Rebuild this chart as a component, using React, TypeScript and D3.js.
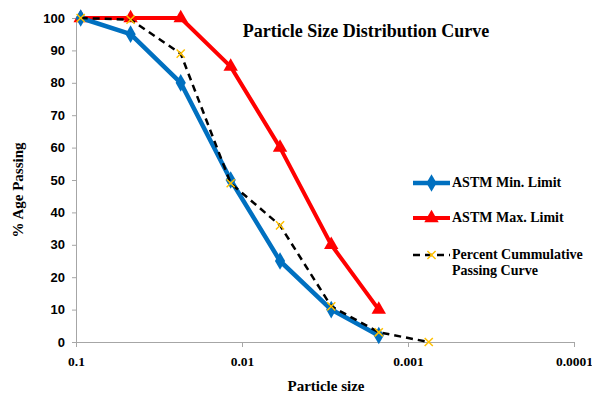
import React, { useRef, useEffect } from "react";
import * as d3 from "d3";

// particle sizes (log scale, reversed)
const sieveSizes = [0.0937, 0.0469, 0.0234, 0.0117, 0.0059, 0.0029, 0.0015];
const minLimit = [100, 95, 80, 50, 25, 10, 2];
const maxLimit = [100, 100, 100, 85, 60, 30, 10];
const sampleSizes = [0.0937, 0.0469, 0.0234, 0.0117, 0.0059, 0.0029, 0.0015, 0.00075];
const samplePassing = [100, 99.5, 89, 49, 36, 11, 3, 0];
const xTicks = [0.1, 0.01, 0.001, 0.0001];
const xTickLabels = ["0.1", "0.01", "0.001", "0.0001"];
const yTicks = [0, 10, 20, 30, 40, 50, 60, 70, 80, 90, 100];

const W = 592;
const H = 395;
const serif = "Liberation Serif, Times New Roman, serif";

const App = () => {
  const svgRef = useRef<SVGSVGElement>(null);

  useEffect(() => {
    const svg = d3.select(svgRef.current);
    svg.selectAll("*").remove();

    const x = d3.scaleLog().domain([0.1, 0.0001]).range([76, 574]);
    const y = d3.scaleLinear().domain([0, 100]).range([342, 18]);

    const g = svg.append("g");

    // axes
    const yAxis = g.append("g")
      .attr("transform", `translate(${x(0.1)},0)`)
      .call(d3.axisLeft(y).tickValues(yTicks).tickSize(4).tickPadding(7));
    yAxis.select(".domain").attr("stroke", "#a6a6a6");
    yAxis.selectAll("line").attr("stroke", "#a6a6a6");
    yAxis.selectAll("text")
      .attr("font-family", "Liberation Sans, Arial, sans-serif")
      .attr("font-weight", "bold")
      .attr("font-size", 13)
      .attr("fill", "#000");

    const xAxis = g.append("g")
      .attr("transform", `translate(0,${y(0)})`)
      .call(
        d3.axisBottom(x)
          .tickValues(xTicks)
          .tickFormat((_, i) => xTickLabels[i])
          .tickSize(5)
          .tickSizeOuter(0)
          .tickPadding(9)
      );
    xAxis.select(".domain").attr("stroke", "#a6a6a6");
    xAxis.selectAll("line").attr("stroke", "#a6a6a6");
    xAxis.selectAll("text")
      .attr("font-family", serif)
      .attr("font-weight", "bold")
      .attr("font-size", 13.5)
      .attr("fill", "#000");

    const line = d3.line<[number, number]>()
      .x((d) => x(d[0]))
      .y((d) => y(d[1]));

    const minPts: [number, number][] = sieveSizes.map((s, i) => [s, minLimit[i]]);
    const maxPts: [number, number][] = sieveSizes.map((s, i) => [s, maxLimit[i]]);
    const samplePts: [number, number][] = sampleSizes.map((s, i) => [s, samplePassing[i]]);

    // max limit (red)
    g.append("path")
      .datum(maxPts)
      .attr("fill", "none")
      .attr("stroke", "#ff0000")
      .attr("stroke-width", 4)
      .attr("stroke-linejoin", "round")
      .attr("d", line);
    const tri = d3.symbol().type(d3.symbolTriangle).size(90);
    g.selectAll(".tri")
      .data(maxPts)
      .enter()
      .append("path")
      .attr("transform", (d) => `translate(${x(d[0])},${y(d[1])})`)
      .attr("d", tri)
      .attr("fill", "#ff0000");

    // min limit (blue)
    g.append("path")
      .datum(minPts)
      .attr("fill", "none")
      .attr("stroke", "#0070c0")
      .attr("stroke-width", 4.5)
      .attr("stroke-linejoin", "round")
      .attr("d", line);
    const dia = d3.symbol().type(d3.symbolDiamond).size(90);
    g.selectAll(".dia")
      .data(minPts)
      .enter()
      .append("path")
      .attr("transform", (d) => `translate(${x(d[0])},${y(d[1])})`)
      .attr("d", dia)
      .attr("fill", "#0070c0");

    // percent cumulative passing (dashed black)
    g.append("path")
      .datum(samplePts)
      .attr("fill", "none")
      .attr("stroke", "#000")
      .attr("stroke-width", 2.5)
      .attr("stroke-dasharray", "7,5")
      .attr("d", line);
    const cross = d3.symbol().type(d3.symbolX).size(45);
    g.selectAll(".cross")
      .data(samplePts)
      .enter()
      .append("path")
      .attr("transform", (d) => `translate(${x(d[0])},${y(d[1])})`)
      .attr("d", cross)
      .attr("fill", "none")
      .attr("stroke", "#ffc000")
      .attr("stroke-width", 1.5);

    // title
    svg.append("text")
      .attr("x", 366)
      .attr("y", 37)
      .attr("text-anchor", "middle")
      .attr("font-family", serif)
      .attr("font-weight", "bold")
      .attr("font-size", 18)
      .text("Particle Size Distribution Curve");

    // axis titles
    svg.append("text")
      .attr("transform", `translate(23,190) rotate(-90)`)
      .attr("text-anchor", "middle")
      .attr("font-family", serif)
      .attr("font-weight", "bold")
      .attr("font-size", 15)
      .text("% Age Passing");
    svg.append("text")
      .attr("x", 326)
      .attr("y", 391)
      .attr("text-anchor", "middle")
      .attr("font-family", serif)
      .attr("font-weight", "bold")
      .attr("font-size", 15)
      .text("Particle size");

    // legend
    const lg = svg.append("g").attr("font-family", serif)
      .attr("font-weight", "bold").attr("font-size", 14);
    const lx0 = 413;
    const lx1 = 450;
    const lmid = (lx0 + lx1) / 2;

    lg.append("line").attr("x1", lx0).attr("x2", lx1).attr("y1", 183).attr("y2", 183)
      .attr("stroke", "#0070c0").attr("stroke-width", 4.5);
    lg.append("path").attr("transform", `translate(${lmid},183)`).attr("d", dia).attr("fill", "#0070c0");
    lg.append("text").attr("x", 452).attr("y", 187).text("ASTM Min. Limit");

    lg.append("line").attr("x1", lx0).attr("x2", lx1).attr("y1", 218).attr("y2", 218)
      .attr("stroke", "#ff0000").attr("stroke-width", 4);
    lg.append("path").attr("transform", `translate(${lmid},218)`).attr("d", tri).attr("fill", "#ff0000");
    lg.append("text").attr("x", 452).attr("y", 222).text("ASTM Max. Limit");

    lg.append("line").attr("x1", lx0).attr("x2", lx1).attr("y1", 255).attr("y2", 255)
      .attr("stroke", "#000").attr("stroke-width", 2.5).attr("stroke-dasharray", "7,5");
    lg.append("path").attr("transform", `translate(${lmid},255)`).attr("d", cross)
      .attr("stroke", "#ffc000").attr("stroke-width", 1.5).attr("fill", "none");
    lg.append("text").attr("x", 452).attr("y", 259).text("Percent Cummulative");
    lg.append("text").attr("x", 452).attr("y", 275).text("Passing Curve");
  }, []);

  return (
    <svg
      ref={svgRef}
      width={W}
      height={H}
      style={{ display: "block", position: "absolute", left: 0, top: 0 }}
    />
  );
};

export default App;
